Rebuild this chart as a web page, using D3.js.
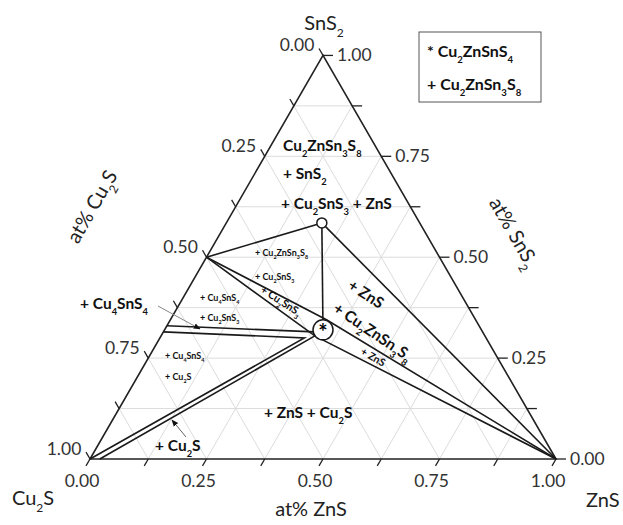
<!DOCTYPE html>
<html><head><meta charset="utf-8">
<script src="https://cdn.jsdelivr.net/npm/d3@7/dist/d3.min.js"></script>
<style>body{margin:0;background:#fff}svg{display:block}</style>
</head><body>
<svg id="c" width="623" height="525"></svg>
<script>
// ---------- data (compositions as [Cu2S, ZnS, SnS2] fractions) ----------
const vertexNames = ["Cu_2S", "ZnS", "SnS_2"];
const majorTicks = [0, 0.25, 0.5, 0.75, 1];
const tickLabels = ["0.00", "0.25", "0.50", "0.75", "1.00"];
const minorTicks = [0.125, 0.375, 0.625, 0.875];
const gridLevels = [0.125, 0.25, 0.375, 0.5, 0.625, 0.75, 0.875];

const ptCZTS = [0.34, 0.34, 0.32];        // Cu2ZnSnS4
const ptC238 = [0.21, 0.205, 0.585];      // Cu2ZnSn3S8
const ptCTS = [0.5, 0, 0.5];              // Cu2SnS3
const ptCu4 = [0.67, 0, 0.33];            // Cu4SnS4
const ptZnS = [0, 1, 0];
const ptCu2S = [1, 0, 0];

const tieLines = [
  [ptCTS, ptC238],
  [ptC238, ptZnS],
  [ptCTS, [0.32, 0.335, 0.345], ptZnS],
  [ptCTS, [0.365, 0.33, 0.305], ptZnS],
  [ptCu4, [0.36, 0.325, 0.315]],
  [[0.685, 0, 0.315], [0.39, 0.31, 0.30], ptCu2S],
  [[0.365, 0.33, 0.305], [0.979, 0.021, 0]]
];
const verticalLine = [ptC238, ptCZTS];

const legendItems = ["* Cu_2ZnSnS_4", "+ Cu_2ZnSn_3S_8"];

// ---------- setup ----------
const svg = d3.select("#c");
const FONT = "Lato, 'Open Sans', sans-serif";
const x = d3.scaleLinear().domain([0, 1]).range([90, 556]);
const y = d3.scaleLinear().domain([0, 1]).range([459, 459 - 466 * Math.sqrt(3) / 2]);
const P = c => [x(c[1] + c[2] / 2), y(c[2])];
const line = d3.line().x(d => P(d)[0]).y(d => P(d)[1]);

function rich(sel, str, fs) {
  const parts = str.split(/(_\d)/);
  let shifted = false;
  parts.forEach(p => {
    if (!p) return;
    if (p[0] === "_") {
      sel.append("tspan").text(p.slice(1)).attr("font-size", fs * 0.6).attr("dy", fs * 0.36);
      shifted = true;
    } else {
      const t = sel.append("tspan").text(p);
      if (shifted) { t.attr("dy", -fs * 0.36); shifted = false; }
    }
  });
  return sel;
}

// ---------- grid ----------
const grid = svg.append("g").attr("stroke", "#dcdcdc").attr("stroke-width", 1).attr("fill", "none");
gridLevels.forEach(t => {
  grid.append("path").attr("d", line([[1 - t, 0, t], [0, 1 - t, t]]));
  grid.append("path").attr("d", line([[1 - t, t, 0], [0, t, 1 - t]]));
  grid.append("path").attr("d", line([[t, 1 - t, 0], [t, 0, 1 - t]]));
});

// ---------- triangle ----------
svg.append("path").attr("d", line([ptCu2S, ptZnS, [0, 0, 1]]) + "Z")
  .attr("fill", "none").attr("stroke", "#222").attr("stroke-width", 1.6);

// ---------- ticks ----------
const tk = svg.append("g").attr("stroke", "#222").attr("stroke-width", 1.3);
const allTicks = majorTicks.concat(minorTicks);
const L = 8;
allTicks.forEach(t => {
  let p = P([1 - t, t, 0]);
  tk.append("line").attr("x1", p[0]).attr("y1", p[1]).attr("x2", p[0] - L * 0.5).attr("y2", p[1] + L * 0.866);
  p = P([t, 0, 1 - t]);
  tk.append("line").attr("x1", p[0]).attr("y1", p[1]).attr("x2", p[0] - L * 0.5).attr("y2", p[1] - L * 0.866);
  p = P([0, 1 - t, t]);
  tk.append("line").attr("x1", p[0]).attr("y1", p[1]).attr("x2", p[0] + 10).attr("y2", p[1]);
});
const tl = svg.append("g").attr("font-family", FONT).attr("font-size", 17.5).attr("fill", "#333");
majorTicks.forEach((t, i) => {
  let p = P([1 - t, t, 0]);
  tl.append("text").attr("x", p[0] - 8).attr("y", p[1] + 28).attr("text-anchor", "middle").text(tickLabels[i]);
  p = P([t, 0, 1 - t]);
  tl.append("text").attr("x", p[0] - 26).attr("y", p[1] - 4).attr("text-anchor", "middle").text(tickLabels[i]);
  p = P([0, 1 - t, t]);
  tl.append("text").attr("x", p[0] + 14).attr("y", p[1] + 6).attr("text-anchor", "start").text(tickLabels[i]);
});

// ---------- axis titles ----------
const at = svg.append("g").attr("font-family", FONT).attr("font-size", 20).attr("fill", "#222");
rich(at.append("text").attr("x", 324).attr("y", 30).attr("text-anchor", "middle"), vertexNames[2], 20);
rich(at.append("text").attr("x", 12).attr("y", 505), vertexNames[0], 20);
rich(at.append("text").attr("x", 586).attr("y", 507), vertexNames[1], 20);
at.append("text").attr("x", 311).attr("y", 516).attr("text-anchor", "middle").text("at% ZnS");
rich(at.append("text").attr("text-anchor", "middle").attr("transform", "translate(98,210) rotate(-60)"), "at% Cu_2S", 20);
rich(at.append("text").attr("text-anchor", "middle").attr("transform", "translate(508,236) rotate(60)"), "at% SnS_2", 20);

// ---------- tie lines ----------
const tg = svg.append("g").attr("fill", "none").attr("stroke", "#1a1a1a").attr("stroke-width", 1.6);
tieLines.forEach(l => tg.append("path").attr("d", line(l)));

// markers
const c238 = P(ptC238), czts = P(ptCZTS);
svg.append("circle").attr("cx", c238[0]).attr("cy", c238[1]).attr("r", 5)
  .attr("fill", "#fff").attr("stroke", "#1a1a1a").attr("stroke-width", 1.5);
tg.append("path").attr("d", line(verticalLine));
tg.append("line").attr("x1", c238[0]).attr("y1", c238[1] - 5).attr("x2", c238[0]).attr("y2", c238[1]);
svg.append("circle").attr("cx", czts[0]).attr("cy", czts[1]).attr("r", 10)
  .attr("fill", "#fff").attr("stroke", "#1a1a1a").attr("stroke-width", 1.5);
svg.append("text").attr("x", czts[0]).attr("y", czts[1] + 10).attr("text-anchor", "middle")
  .attr("font-family", FONT).attr("font-size", 22).attr("font-weight", "bold").text("*");

// ---------- arrows ----------
const defs = svg.append("defs");
defs.append("marker").attr("id", "ah").attr("viewBox", "0 0 10 10").attr("refX", 9).attr("refY", 5)
  .attr("markerWidth", 7).attr("markerHeight", 7).attr("orient", "auto")
  .append("path").attr("d", "M0,1L10,5L0,9Z").attr("fill", "#111");
svg.append("line").attr("x1", 158).attr("y1", 306).attr("x2", 200).attr("y2", 329)
  .attr("stroke", "#888").attr("stroke-width", 1).attr("marker-end", "url(#ah)");
svg.append("line").attr("x1", 186).attr("y1", 437).attr("x2", 172).attr("y2", 420)
  .attr("stroke", "#666").attr("stroke-width", 1).attr("marker-end", "url(#ah)");

// ---------- region labels ----------
const labels = [
  { t: "Cu_2ZnSn_3S_8", x: 283, y: 151, fs: 15.5 },
  { t: "+ SnS_2", x: 283, y: 179, fs: 15.5 },
  { t: "+ Cu_2SnS_3 + ZnS", x: 281, y: 209, fs: 15.5 },
  { t: "+ Cu_2ZnSn_3S_8", x: 255, y: 256, fs: 9 },
  { t: "+ Cu_2SnS_3", x: 255, y: 280, fs: 9 },
  { t: "+ Cu_4SnS_4", x: 200, y: 301, fs: 9 },
  { t: "+ Cu_2SnS_3", x: 200, y: 321, fs: 9 },
  { t: "+ Cu_4SnS_4", x: 165, y: 359, fs: 9 },
  { t: "+ Cu_2S", x: 165, y: 380, fs: 9 },
  { t: "+ Cu_4SnS_4", x: 80, y: 309, fs: 15.5 },
  { t: "+ ZnS + Cu_2S", x: 264, y: 418, fs: 15.5 },
  { t: "+ Cu_2S", x: 155, y: 451, fs: 15.5 },
  { t: "+ Cu_2SnS_3", cx: 281, cy: 301, rot: 33, fs: 10.5 },
  { t: "+ ZnS", cx: 366, cy: 294, rot: 33, fs: 15.5 },
  { t: "+ Cu_2ZnSn_3S_8", cx: 373, cy: 332, rot: 34, fs: 15.5 },
  { t: "+ ZnS", cx: 373, cy: 357, rot: 30, fs: 10.5 }
];
const lg = svg.append("g").attr("font-family", FONT).attr("font-weight", "bold").attr("fill", "#111");
labels.forEach(d => {
  let t;
  if (d.rot !== undefined) {
    t = lg.append("text").attr("text-anchor", "middle")
      .attr("transform", `translate(${d.cx},${d.cy}) rotate(${d.rot})`).attr("y", d.fs * 0.35);
  } else {
    t = lg.append("text").attr("x", d.x).attr("y", d.y);
  }
  t.attr("font-size", d.fs);
  rich(t, d.t, d.fs);
});

// ---------- legend ----------
svg.append("rect").attr("x", 419).attr("y", 32).attr("width", 122).attr("height", 70)
  .attr("fill", "#fff").attr("stroke", "#555").attr("stroke-width", 1);
legendItems.forEach((s, i) => {
  const t = svg.append("text").attr("x", 427).attr("y", 57 + i * 33)
    .attr("font-family", FONT).attr("font-weight", "bold").attr("font-size", 16).attr("fill", "#111");
  rich(t, s, 16);
});
</script>
</body></html>
